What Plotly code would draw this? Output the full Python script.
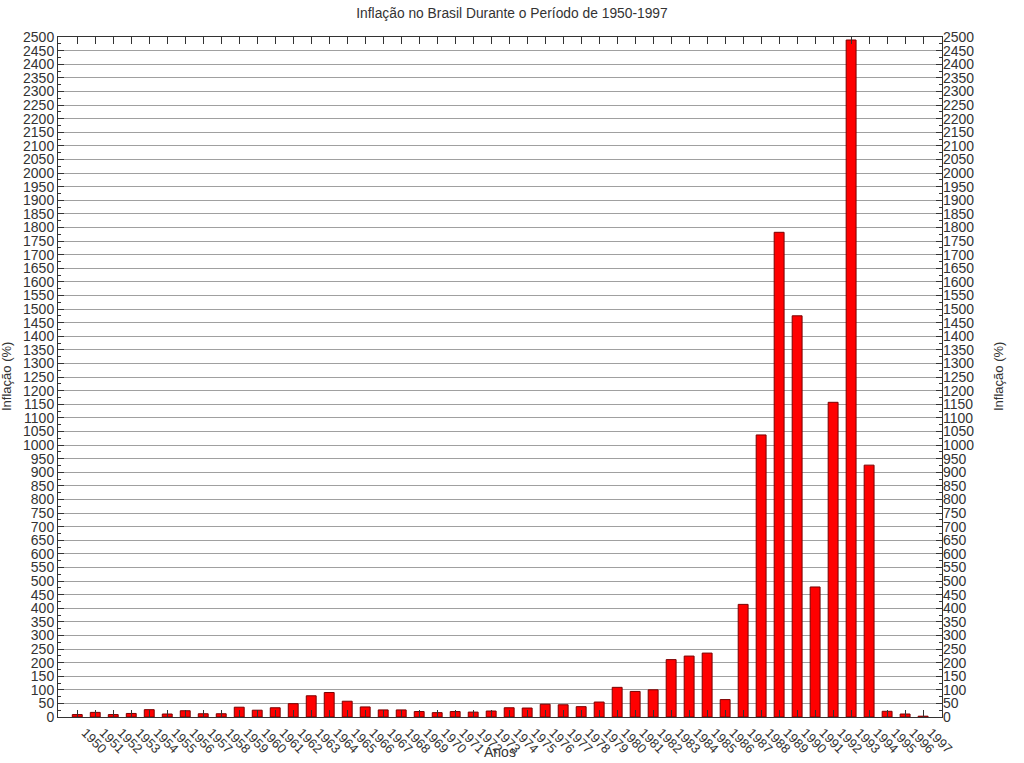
import plotly.graph_objects as go

years = [str(y) for y in range(1950, 1998)]
inflation = [
    9, 17, 9, 13, 27, 11, 23, 12, 12, 36,      # 1950-1959
    25, 34, 49, 78, 90, 58, 37, 26, 26, 20,    # 1960-1969
    16, 20, 18, 22, 34, 33, 47, 45, 38, 55,    # 1970-1979
    109, 94, 100, 211, 224, 235, 64, 414, 1037, 1782,  # 1980-1989
    1475, 478, 1157, 2489, 926, 21, 11, 3      # 1990-1997
]
y_ticks = list(range(0, 2501, 50))

title_text = "Inflação no Brasil Durante o Período de 1950-1997"
y_title = "Inflação (%)"
x_title = "Anos"

FONT = "Liberation Sans, Arial, sans-serif"
TXT = "#333333"

fig = go.Figure()
fig.add_trace(go.Bar(
    x=years, y=inflation, width=0.55,
    marker=dict(color="#ff0000", line=dict(color="#7a0000", width=1)),
    showlegend=False,
))
fig.add_trace(go.Scatter(
    x=years, y=inflation, yaxis="y2", mode="markers",
    marker=dict(opacity=0), hoverinfo="skip", showlegend=False,
))

yaxis_common = dict(
    range=[0, 2500], tickvals=y_ticks, ticktext=[str(v) for v in y_ticks],
    tickfont=dict(family=FONT, size=14, color=TXT),
    ticks="inside", ticklen=6, tickcolor="#333333",
    minor=dict(dtick=25, ticks="inside", ticklen=3, tickcolor="#333333", showgrid=False),
    zeroline=False, fixedrange=True, automargin=False,
)

fig.update_layout(
    width=1024, height=763,
    margin=dict(l=58, r=82, t=37, b=46, autoexpand=False),
    paper_bgcolor="white", plot_bgcolor="white",
    title=dict(text=title_text, x=0.5, xanchor="center", y=1 - 13 / 763, yanchor="middle",
               font=dict(family=FONT, size=13.8, color=TXT)),
    xaxis=dict(
        type="category", range=[-1.07, 48.05],
        tickangle=45, tickfont=dict(family=FONT, size=13, color=TXT),
        ticklabelshift=8, ticklabelstandoff=2,
        ticks="inside", ticklen=7, tickcolor="#333333",
        showline=True, linecolor="#333333", linewidth=1, mirror="ticks",
        showgrid=False, automargin=False,
    ),
    yaxis=dict(
        **yaxis_common,
        showline=True, linecolor="#333333", linewidth=1, mirror="ticks",
        showgrid=True, gridcolor="#a0a0a0", gridwidth=1,
    ),
    yaxis2=dict(
        **yaxis_common,
        overlaying="y", side="right", showgrid=False, showline=False,
    ),
    annotations=[
        dict(text=y_title, xref="paper", yref="paper", x=(6 - 58) / 884, y=0.5,
             xanchor="center", yanchor="middle", textangle=-90, showarrow=False,
             font=dict(family=FONT, size=13, color=TXT)),
        dict(text=y_title, xref="paper", yref="paper", x=(998 - 58) / 884, y=0.5,
             xanchor="center", yanchor="middle", textangle=-90, showarrow=False,
             font=dict(family=FONT, size=13, color=TXT)),
        dict(text=x_title, xref="paper", yref="paper", x=0.5, y=(717 - 752) / 680,
             xanchor="center", yanchor="middle", showarrow=False,
             font=dict(family=FONT, size=14, color=TXT)),
    ],
)

fig.write_html("out.html", config={"displayModeBar": False},
               post_script="document.body.style.margin='0';document.body.style.overflow='hidden';")
